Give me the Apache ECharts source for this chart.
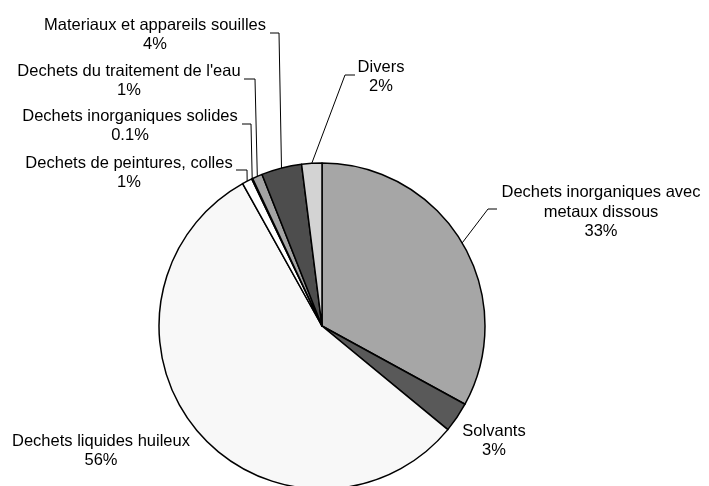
<!DOCTYPE html>
<html>
<head>
<meta charset="utf-8">
<script src="https://cdn.jsdelivr.net/npm/echarts@6/dist/echarts.min.js"></script>
<style>html,body{margin:0;padding:0;background:#fff;}#c{width:709px;height:486px;}</style>
</head>
<body>
<div id="c"></div>
<script>
// Data (clockwise from 12 o'clock)
var categories = [
  "Dechets inorganiques avec\nmetaux dissous",
  "Solvants",
  "Dechets liquides huileux",
  "Dechets de peintures, colles",
  "Dechets inorganiques solides",
  "Dechets du traitement de l'eau",
  "Materiaux et appareils souilles",
  "Divers"
];
var values = [33, 3, 56, 1, 0.1, 1, 4, 2];
var valueLabels = ["33%", "3%", "56%", "1%", "0.1%", "1%", "4%", "2%"];
var colors = ["#a6a6a6", "#595959", "#f8f8f8", "#ffffff", "#808080", "#a3a3a3", "#4d4d4d", "#d3d3d3"];

// Label layout: text block centre, and leader-line bend/end points (null = no leader)
var labelPos = [
  {x: 601, y: 212, line: [[488, 209], [497, 209]]},
  {x: 494, y: 441, line: null},
  {x: 101, y: 451, line: null},
  {x: 129, y: 173, line: [[247, 170], [236, 170]]},
  {x: 130, y: 126, line: [[251, 124], [242, 124]]},
  {x: 129, y: 81, line: [[255, 79], [244, 79]]},
  {x: 155, y: 35, line: [[279, 33], [270, 33]]},
  {x: 381, y: 77, line: [[345, 75], [355, 75]]}
];

var data = categories.map(function (c, i) {
  return {
    name: c,
    value: values[i],
    itemStyle: {color: colors[i]},
    labelLine: {show: labelPos[i].line !== null}
  };
});

var chart = echarts.init(document.getElementById('c'), null, {renderer: 'canvas'});
chart.setOption({
  animation: false,
  backgroundColor: '#ffffff',
  series: [{
    type: 'pie',
    center: [322, 326],
    radius: [0, 163],
    startAngle: 90,
    clockwise: true,
    avoidLabelOverlap: false,
    data: data,
    itemStyle: {borderColor: '#000000', borderWidth: 1.5},
    label: {
      show: true,
      position: 'outside',
      formatter: function (p) { return p.name + '\n' + valueLabels[p.dataIndex]; },
      fontFamily: 'Liberation Sans, Arial, sans-serif',
      fontSize: 16.5,
      lineHeight: 19.5,
      color: '#000000',
      align: 'center'
    },
    labelLine: {
      show: true,
      length: 10,
      length2: 10,
      lineStyle: {color: '#000000', width: 1}
    },
    labelLayout: function (params) {
      var lp = labelPos[params.dataIndex];
      var res = {x: lp.x, y: lp.y, align: 'center', verticalAlign: 'middle'};
      if (lp.line && params.labelLinePoints) {
        res.labelLinePoints = [params.labelLinePoints[0], lp.line[0], lp.line[1]];
      }
      return res;
    },
    emphasis: {disabled: true}
  }]
});
</script>
</body>
</html>
